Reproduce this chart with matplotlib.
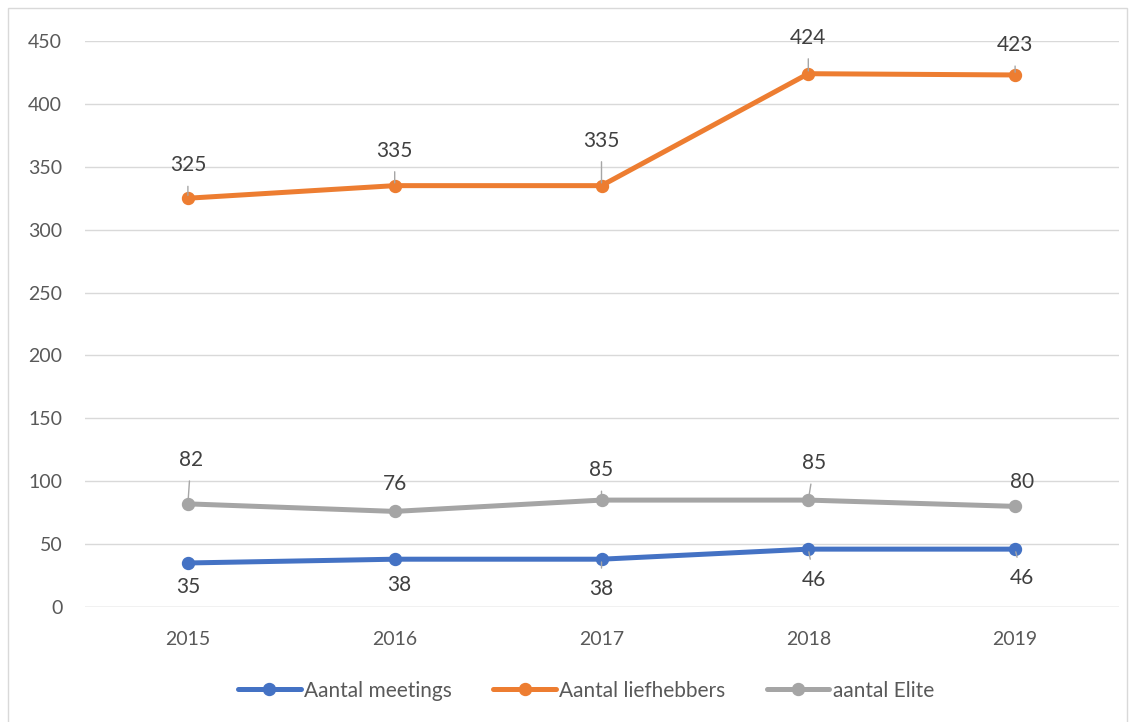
import matplotlib
matplotlib.use("Agg")
import matplotlib.pyplot as plt
import matplotlib.patches as mpatches
import numpy as np

plt.rcParams["font.family"] = ["Lato", "DejaVu Sans"]

years = ["2015", "2016", "2017", "2018", "2019"]
meetings = [35, 38, 38, 46, 46]
liefhebbers = [325, 335, 335, 424, 423]
elite = [82, 76, 85, 85, 80]

series_names = ["Aantal meetings", "Aantal liefhebbers", "aantal Elite"]
series_colors = ["#4472C4", "#ED7D31", "#A5A5A5"]

# label offsets in pixels (dx, dy) relative to each point
label_offsets = [
    [(0, -24), (5, -26), (0, -30), (6, -31), (7, -29)],
    [(0, 33), (0, 35), (0, 45), (0, 36), (0, 30)],
    [(3, 44), (0, 27), (0, 30), (6, 37), (7, 24)],
]

TXT = "#595959"
GRID = "#D9D9D9"

fig = plt.figure(figsize=(11.35, 7.22), dpi=100)
fig.patch.set_facecolor("white")
fig.patches.append(mpatches.Rectangle(
    (8 / 1135, -0.05), 1119 / 1135, 1.05 - 8 / 722,
    transform=fig.transFigure, fill=False, ec="#D9D9D9", lw=1))

ax = fig.add_axes([84.5 / 1135, 1 - 607 / 722, 1034 / 1135, 566 / 722])
x = np.arange(len(years))

all_series = [meetings, liefhebbers, elite]
for vals, name, col, offs in zip(all_series, series_names, series_colors, label_offsets):
    ax.plot(x, vals, color=col, lw=3.6, marker="o", markersize=8.6,
            label=name, zorder=3, solid_capstyle="round")
    for xi, v, (dx, dy) in zip(x, vals, offs):
        dist = np.hypot(dx, dy)
        arrow = None
        if dist > 29.5:
            arrow = dict(arrowstyle="-", color="#A6A6A6", lw=1,
                         shrinkA=6, shrinkB=2)
        ax.annotate(str(v), (xi, v), xytext=(dx, dy), textcoords="offset pixels",
                    ha="center", va="center", fontsize=15, color="#404040",
                    arrowprops=arrow, zorder=4)

ax.set_xlim(-0.5, len(years) - 0.5)
ax.set_ylim(0, 450)
ax.set_yticks(np.arange(0, 451, 50))
ax.set_xticks(x)
ax.set_xticklabels(years)
ax.tick_params(axis="both", length=0, labelsize=14, colors=TXT)
ax.tick_params(axis="y", pad=16)
ax.tick_params(axis="x", pad=17)
ax.grid(axis="y", color=GRID, lw=1, zorder=0)
ax.set_axisbelow(True)
for s in ax.spines.values():
    s.set_visible(False)
ax.axhline(0, color=GRID, lw=1, zorder=1)

leg = ax.legend(loc="center", bbox_to_anchor=(0.485, -0.148), ncol=3,
                frameon=False, fontsize=15, handlelength=3.0,
                handletextpad=0.15, columnspacing=2.0)
for t in leg.get_texts():
    t.set_color(TXT)

fig.savefig("out.png", dpi=100, facecolor="white")
